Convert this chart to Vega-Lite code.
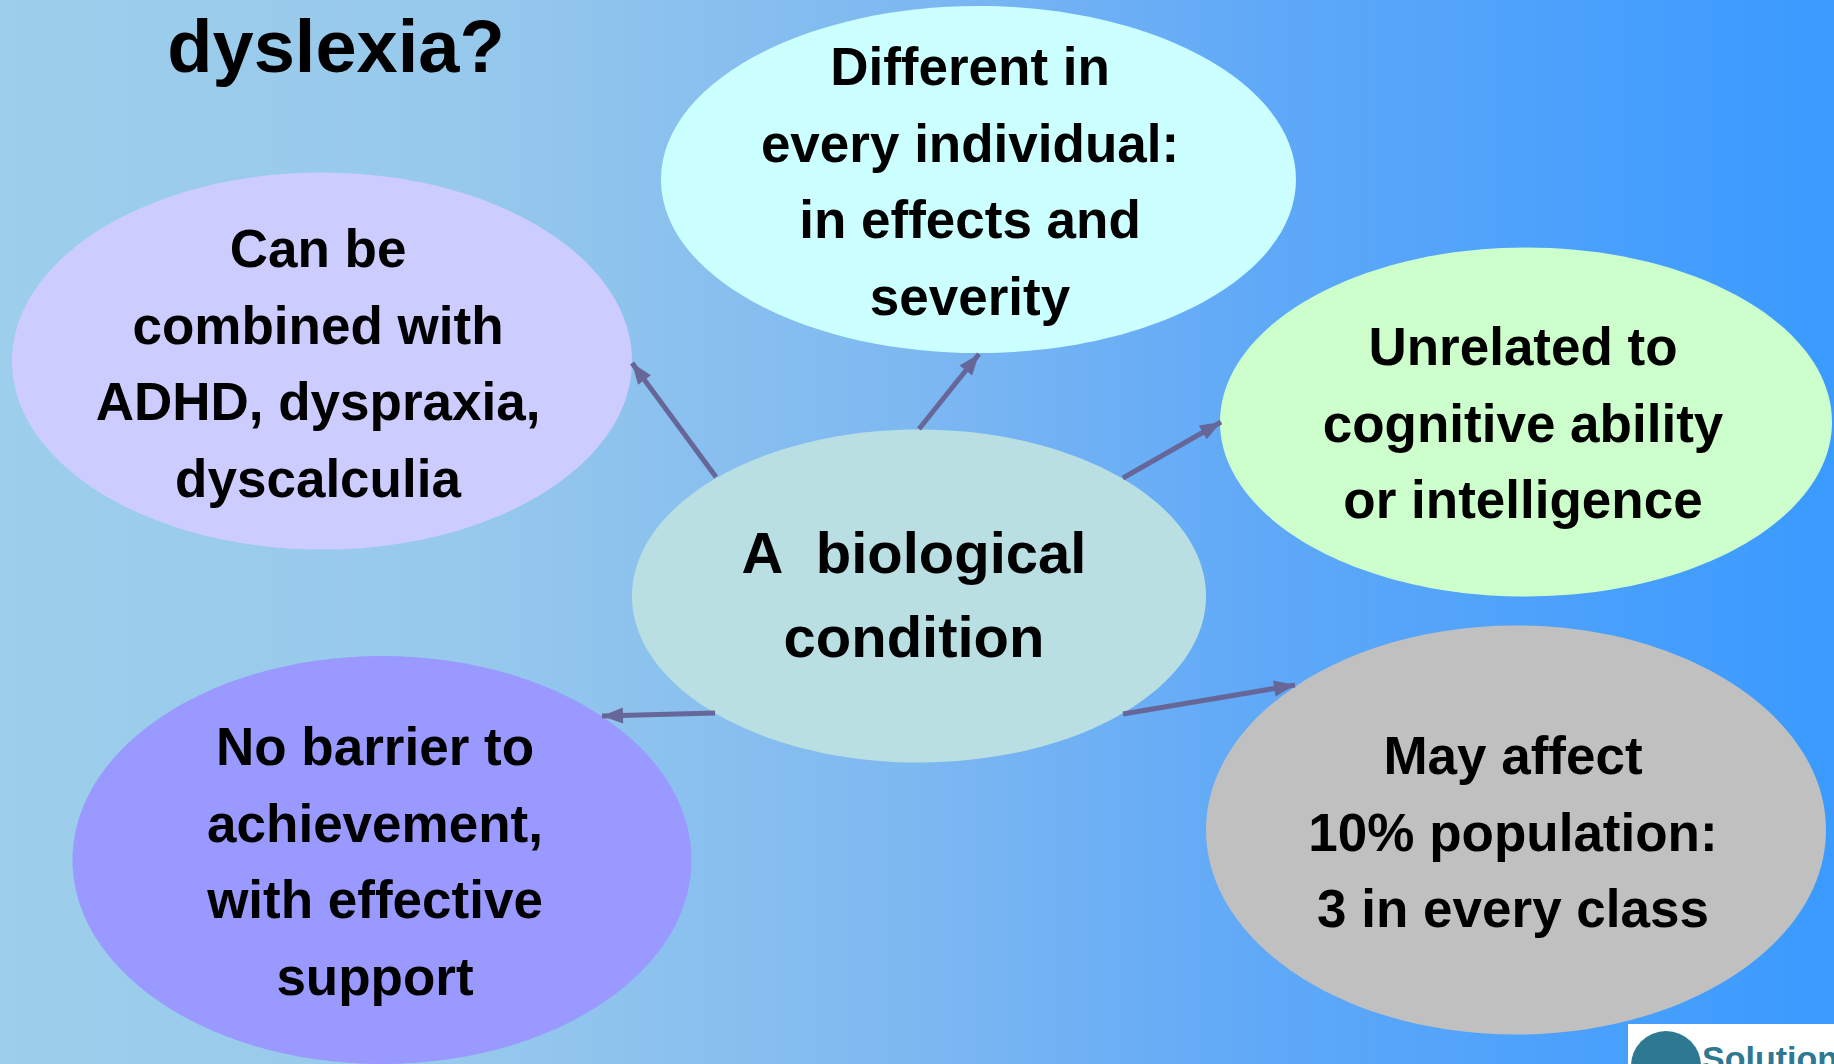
{
  "$schema": "https://vega.github.io/schema/vega-lite/v6.json",
  "autosize": {"type": "none"},
  "width": 1834,
  "height": 1064,
  "padding": 0,
  "background": "#9CCDEB",
  "config": {"view": {"stroke": null}, "text": {"lineBreak": "\n"}},
  "datasets": {
    "bubbles": [
      {"id": "combined", "x": 322, "y": 361},
      {"id": "different", "x": 978.5, "y": 179.5},
      {"id": "unrelated", "x": 1526, "y": 422},
      {"id": "biological", "x": 919, "y": 596},
      {"id": "nobarrier", "x": 382, "y": 860},
      {"id": "mayaffect", "x": 1516, "y": 830}
    ],
    "labels": [
      {"id": "combined", "x": 318, "y": 267, "text": "Can be\ncombined with\nADHD, dyspraxia,\ndyscalculia"},
      {"id": "different", "x": 970, "y": 85, "text": "Different in\nevery individual:\nin effects and\nseverity"},
      {"id": "unrelated", "x": 1523, "y": 365, "text": "Unrelated to\ncognitive ability\nor intelligence"},
      {"id": "nobarrier", "x": 375, "y": 765, "text": "No barrier to\nachievement,\nwith effective\nsupport"},
      {"id": "mayaffect", "x": 1513, "y": 774, "text": "May affect\n10% population:\n3 in every class"}
    ],
    "arrows": [
      {"to": "combined", "x1": 716, "y1": 477, "x2": 632, "y2": 363, "angle": 323.6},
      {"to": "different", "x1": 919, "y1": 429, "x2": 979, "y2": 354, "angle": 38.7},
      {"to": "unrelated", "x1": 1123, "y1": 478, "x2": 1221, "y2": 422, "angle": 60.3},
      {"to": "nobarrier", "x1": 715, "y1": 713, "x2": 602, "y2": 716, "angle": 268.5},
      {"to": "mayaffect", "x1": 1123, "y1": 714, "x2": 1295, "y2": 685, "angle": 80.4}
    ]
  },
  "layer": [
    {
      "data": {"values": [{"panel": "background"}]},
      "mark": {"type": "rect", "color": {"gradient": "linear", "x1": 0, "x2": 1, "y1": 0, "y2": 0, "stops": [{"offset": 0, "color": "#9DCEEB"}, {"offset": 0.25, "color": "#97C9EC"}, {"offset": 0.5, "color": "#7DB8F1"}, {"offset": 0.7, "color": "#5EA8F8"}, {"offset": 1, "color": "#3A9AFF"}]}},
      "encoding": {
        "x": {"datum": 0, "type": "quantitative", "scale": {"domain": [0, 1834], "nice": false, "zero": false}, "axis": null},
        "x2": {"datum": 1834},
        "y": {"datum": 0, "type": "quantitative", "scale": {"domain": [0, 1064], "nice": false, "zero": false, "reverse": true}, "axis": null},
        "y2": {"datum": 1064}
      }
    },
    {
      "data": {"name": "bubbles"},
      "mark": {"type": "point", "filled": true, "opacity": 1, "size": 4, "strokeWidth": 0},
      "encoding": {
        "x": {"field": "x", "type": "quantitative", "axis": null},
        "y": {"field": "y", "type": "quantitative", "axis": null},
        "shape": {"field": "id", "type": "nominal", "legend": null, "scale": {
          "domain": ["combined", "different", "unrelated", "biological", "nobarrier", "mayaffect"],
          "range": [
            "M -310 0 C -310 -104.1 -171.2 -188.5 0 -188.5 C 171.2 -188.5 310 -104.1 310 0 C 310 104.1 171.2 188.5 0 188.5 C -171.2 188.5 -310 104.1 -310 0 Z",
            "M -317.5 0 C -317.5 -95.8 -175.4 -173.5 0 -173.5 C 175.4 -173.5 317.5 -95.8 317.5 0 C 317.5 95.8 175.4 173.5 0 173.5 C -175.4 173.5 -317.5 95.8 -317.5 0 Z",
            "M -306 0 C -306 -96.4 -169 -174.5 0 -174.5 C 169 -174.5 306 -96.4 306 0 C 306 96.4 169 174.5 0 174.5 C -169 174.5 -306 96.4 -306 0 Z",
            "M -287 0 C -287 -92 -158.5 -166.5 0 -166.5 C 158.5 -166.5 287 -92 287 0 C 287 92 158.5 166.5 0 166.5 C -158.5 166.5 -287 92 -287 0 Z",
            "M -309.5 0 C -309.5 -112.7 -170.9 -204 0 -204 C 170.9 -204 309.5 -112.7 309.5 0 C 309.5 112.7 170.9 204 0 204 C -170.9 204 -309.5 112.7 -309.5 0 Z",
            "M -310 0 C -310 -112.9 -171.2 -204.5 0 -204.5 C 171.2 -204.5 310 -112.9 310 0 C 310 112.9 171.2 204.5 0 204.5 C -171.2 204.5 -310 112.9 -310 0 Z"
          ]}},
        "color": {"field": "id", "type": "nominal", "legend": null, "scale": {
          "domain": ["combined", "different", "unrelated", "biological", "nobarrier", "mayaffect"],
          "range": ["#CCCCFF", "#CCFFFF", "#CCFFCC", "#B9DFE3", "#9999FF", "#C0C0C0"]}}
      }
    },
    {
      "data": {"name": "arrows"},
      "mark": {"type": "rule", "color": "#666699", "strokeWidth": 5},
      "encoding": {
        "x": {"field": "x1", "type": "quantitative", "axis": null},
        "y": {"field": "y1", "type": "quantitative", "axis": null},
        "x2": {"field": "x2"},
        "y2": {"field": "y2"}
      }
    },
    {
      "data": {"name": "arrows"},
      "mark": {"type": "point", "filled": true, "opacity": 1, "size": 4, "strokeWidth": 0, "color": "#666699", "shape": "M 0 0 L -8 21 L 8 21 Z"},
      "encoding": {
        "x": {"field": "x2", "type": "quantitative", "axis": null},
        "y": {"field": "y2", "type": "quantitative", "axis": null},
        "angle": {"field": "angle", "type": "quantitative", "scale": null}
      }
    },
    {
      "data": {"name": "labels"},
      "mark": {"type": "text", "font": "Liberation Sans", "fontWeight": "bold", "fontSize": 53, "lineHeight": 76.5, "align": "center", "baseline": "alphabetic", "color": "#000000"},
      "encoding": {
        "x": {"field": "x", "type": "quantitative", "axis": null},
        "y": {"field": "y", "type": "quantitative", "axis": null},
        "text": {"field": "text"}
      }
    },
    {
      "data": {"values": [{"x": 914, "y": 573, "text": "A\u00a0 biological\ncondition"}]},
      "mark": {"type": "text", "font": "Liberation Sans", "fontWeight": "bold", "fontSize": 58, "lineHeight": 84, "align": "center", "baseline": "alphabetic", "color": "#000000"},
      "encoding": {
        "x": {"field": "x", "type": "quantitative", "axis": null},
        "y": {"field": "y", "type": "quantitative", "axis": null},
        "text": {"field": "text"}
      }
    },
    {
      "data": {"values": [{"x": 336, "y": 72, "text": "dyslexia?"}]},
      "mark": {"type": "text", "font": "Liberation Sans", "fontWeight": "bold", "fontSize": 74, "align": "center", "baseline": "alphabetic", "color": "#000000"},
      "encoding": {
        "x": {"field": "x", "type": "quantitative", "axis": null},
        "y": {"field": "y", "type": "quantitative", "axis": null},
        "text": {"field": "text"}
      }
    },
    {
      "data": {"values": [{"panel": "logo"}]},
      "mark": {"type": "rect", "color": "#FFFFFF"},
      "encoding": {
        "x": {"datum": 1628, "type": "quantitative", "axis": null},
        "x2": {"datum": 1834},
        "y": {"datum": 1024, "type": "quantitative", "axis": null},
        "y2": {"datum": 1064}
      }
    },
    {
      "data": {"values": [{"panel": "logo"}]},
      "mark": {"type": "point", "shape": "circle", "filled": true, "opacity": 1, "size": 4900, "color": "#2E7892", "strokeWidth": 0},
      "encoding": {
        "x": {"datum": 1666, "type": "quantitative", "axis": null},
        "y": {"datum": 1066, "type": "quantitative", "axis": null}
      }
    },
    {
      "data": {"values": [{"panel": "logo"}]},
      "mark": {"type": "text", "text": "Solutions", "font": "Liberation Sans", "fontWeight": "bold", "fontSize": 34, "align": "left", "baseline": "alphabetic", "color": "#2E7892"},
      "encoding": {
        "x": {"datum": 1702, "type": "quantitative", "axis": null},
        "y": {"datum": 1070, "type": "quantitative", "axis": null}
      }
    }
  ]
}
